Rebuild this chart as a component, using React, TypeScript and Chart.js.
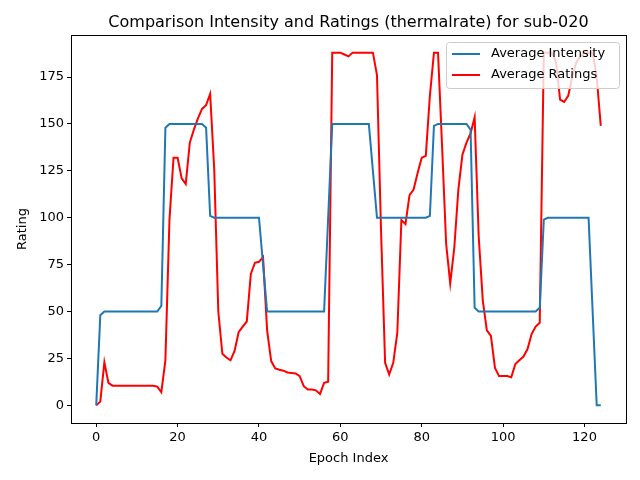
import { useEffect, useRef } from "react"
import { Chart, registerables } from "chart.js"

Chart.register(...registerables)

const epochs = Array.from({ length: 125 }, (_, i) => i)

const intensity = [
  0, 48, 50, 50, 50, 50, 50, 50, 50, 50, 50, 50, 50, 50, 50, 50, 53, 148, 150, 150,
  150, 150, 150, 150, 150, 150, 150, 148, 101, 100, 100, 100, 100, 100, 100, 100, 100, 100, 100, 100,
  100, 75, 50, 50, 50, 50, 50, 50, 50, 50, 50, 50, 50, 50, 50, 50, 50, 100, 150, 150,
  150, 150, 150, 150, 150, 150, 150, 150, 125, 100, 100, 100, 100, 100, 100, 100, 100, 100, 100, 100,
  100, 100, 101, 149, 150, 150, 150, 150, 150, 150, 150, 150, 147, 52, 50, 50, 50, 50, 50, 50,
  50, 50, 50, 50, 50, 50, 50, 50, 50, 52, 99, 100, 100, 100, 100, 100, 100, 100, 100, 100,
  100, 100, 50, 0, 0,
]

const ratings = [
  0, 2, 23, 12, 10.5, 10.5, 10.5, 10.5, 10.5, 10.5, 10.5, 10.5, 10.5, 10.5, 10.5, 10, 7, 24, 99, 132,
  132, 121, 118, 140, 147, 153, 158, 160, 166, 126, 50, 27.5, 25.5, 24, 29, 39, 42, 44.7, 70, 76,
  76.5, 79, 40, 23.6, 19.7, 19, 18.5, 17.5, 17.3, 17, 15.6, 10.2, 8.4, 8.4, 8, 6, 12, 12.6, 188, 188,
  188, 187, 186, 188, 188, 188, 188, 188, 188, 176, 93, 22.7, 16.5, 22.7, 38.8, 98.8, 96.6, 112, 115, 124,
  132, 133, 165, 188, 188, 138, 86, 65, 84, 115, 133.6, 140, 145, 153.5, 90, 56, 40, 37, 20, 15.6,
  15.6, 15.6, 15, 22, 24, 26, 30, 38, 42, 44, 188, 188, 188, 183, 163, 161.7, 165, 175, 183, 186,
  188, 188, 188, 175, 149,
]

const xTicks = [0, 20, 40, 60, 80, 100, 120]
const yTicks = [0, 25, 50, 75, 100, 125, 150, 175]

const FONT = "'DejaVu Sans', sans-serif"

const decor = {
  id: "decor",
  afterDraw(chart: Chart) {
    const { ctx, chartArea: a } = chart
    ctx.save()
    ctx.strokeStyle = "#000"
    ctx.lineWidth = 1
    ctx.strokeRect(a.left + 0.5, a.top + 0.5, a.right - a.left, a.bottom - a.top)
    ctx.fillStyle = "#000"
    ctx.textAlign = "center"
    ctx.textBaseline = "alphabetic"
    ctx.font = `16px ${FONT}`
    ctx.fillText("Comparison Intensity and Ratings (thermalrate) for sub-020", (a.left + a.right) / 2, 27)
    ctx.font = `13px ${FONT}`
    ctx.fillText("Epoch Index", (a.left + a.right) / 2, 462)
    ctx.translate(26, (a.top + a.bottom) / 2)
    ctx.rotate(-Math.PI / 2)
    ctx.fillText("Rating", 0, 0)
    ctx.restore()

    // legend
    ctx.save()
    const lx = 446, ly = 42, lw = 173, lh = 46
    ctx.fillStyle = "rgba(255,255,255,0.8)"
    ctx.strokeStyle = "#ccc"
    ctx.beginPath()
    ctx.roundRect(lx + 0.5, ly + 0.5, lw, lh, 3)
    ctx.fill()
    ctx.stroke()
    ctx.font = `13px ${FONT}`
    ctx.textBaseline = "middle"
    const items = [["Average Intensity", "#1f77b4"], ["Average Ratings", "red"]]
    items.forEach(([label, color], i) => {
      const y = ly + 12 + i * 21
      ctx.strokeStyle = color
      ctx.lineWidth = 2
      ctx.beginPath()
      ctx.moveTo(lx + 6, y)
      ctx.lineTo(lx + 34, y)
      ctx.stroke()
      ctx.fillStyle = "#000"
      ctx.fillText(label, lx + 45, y)
    })
    ctx.restore()
  },
}

export default function App() {
  const chartRef = useRef<HTMLCanvasElement>(null)
  const chartInstance = useRef<Chart | null>(null)

  useEffect(() => {
    document.body.style.margin = "0"
    if (!chartRef.current) return
    if (chartInstance.current) chartInstance.current.destroy()
    const ctx = chartRef.current.getContext("2d")
    if (!ctx) return

    chartInstance.current = new Chart(ctx, {
      type: "line",
      data: {
        labels: epochs,
        datasets: [
          {
            label: "Average Intensity",
            data: epochs.map((x, i) => ({ x, y: intensity[i] })),
            borderColor: "#1f77b4",
            borderWidth: 2,
            pointRadius: 0,
          },
          {
            label: "Average Ratings",
            data: epochs.map((x, i) => ({ x, y: ratings[i] })),
            borderColor: "red",
            borderWidth: 2,
            pointRadius: 0,
          },
        ],
      },
      plugins: [decor],
      options: {
        responsive: false,
        animation: false,
        layout: { padding: { top: 35, right: 14, left: 0, bottom: 0 } },
        plugins: { legend: { display: false }, title: { display: false }, tooltip: { enabled: false } },
        scales: {
          x: {
            type: "linear",
            min: -6.2,
            max: 130.2,
            afterFit: (s: any) => { s.height = 57 },
            afterBuildTicks: (s: any) => { s.ticks = xTicks.map((v) => ({ value: v })) },
            grid: { drawOnChartArea: false, tickLength: 4, color: "#000" },
            border: { color: "#000" },
            ticks: { color: "#000", font: { family: FONT, size: 13 }, maxRotation: 0, padding: 3 },
          },
          y: {
            min: -9.4,
            max: 197.4,
            afterFit: (s: any) => { s.width = 71 },
            afterBuildTicks: (s: any) => { s.ticks = yTicks.map((v) => ({ value: v })) },
            grid: { drawOnChartArea: false, tickLength: 4, color: "#000" },
            border: { color: "#000" },
            ticks: { color: "#000", font: { family: FONT, size: 13 }, padding: 3 },
          },
        },
      },
    })

    return () => {
      if (chartInstance.current) chartInstance.current.destroy()
    }
  }, [])

  return <canvas ref={chartRef} width={640} height={480} style={{ display: "block" }} />
}
